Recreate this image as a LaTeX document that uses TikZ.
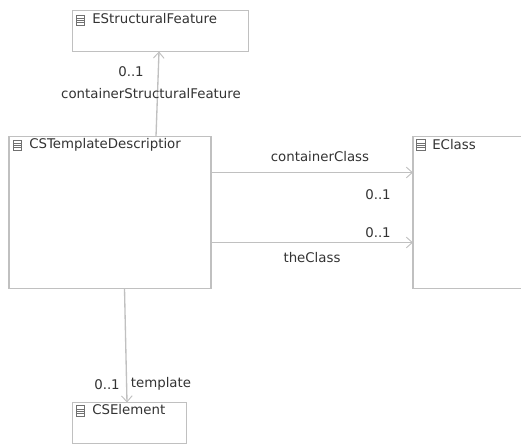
\documentclass[tikz,border=0pt]{standalone}
\usepackage{fontspec}
\setmainfont{DejaVu Sans}
\usetikzlibrary{calc,arrows.meta}
\definecolor{edgegray}{HTML}{C0C0C0}
\definecolor{inkgray}{HTML}{333333}
\definecolor{icongray}{HTML}{707070}
\tikzset{
  classbox/.style={draw=edgegray,line width=1pt,fill=white,anchor=north west,inner sep=0pt,outer sep=0pt},
  conn/.style={draw=edgegray,line width=1pt,-{Straight Barb[length=4.5pt,width=8pt,line width=0.7pt]}},
  titletext/.style={anchor=west,inner sep=0pt,text=inkgray,font=\fontsize{10}{12}\selectfont},
  lbl/.style={inner sep=0pt,text=inkgray,font=\fontsize{10}{12}\selectfont},
  iconbox/.style={draw=icongray,line width=0.6pt,fill=white,minimum width=6.4pt,minimum height=8pt,inner sep=0pt,
    path picture={\foreach \k in {-1.6pt,0pt,1.6pt}{\draw[icongray,line width=0.4pt] ($(path picture bounding box.center)+(-4pt,\k)$) -- ++(8pt,0);}}}
}
\begin{document}
\begin{tikzpicture}[x=0.75pt,y=-0.75pt]
\useasboundingbox (0,0) rectangle (521,443);
\clip (0,0) rectangle (521,443);
\node[classbox,minimum width=132pt,minimum height=30.75pt] (esf) at (72.5,10.5) {};
\node[classbox,minimum width=151.5pt,minimum height=114pt] (cst) at (9,136.5) {};
\node[classbox,minimum width=94pt,minimum height=114pt] (ecl) at (413,136.5) {};
\node[classbox,minimum width=85.5pt,minimum height=30.75pt] (cse) at (72.5,402.5) {};
% icons and titles
\node[iconbox] (i1) at (80.5,20.5) {};
\node[titletext] (t1) at (92,18.5) {EStructuralFeature};
\node[iconbox] (i2) at (17.5,145.5) {};
\node[titletext] (t2) at (29,144.5) {CSTemplateDescriptior};
\node[iconbox] (i3) at (421,145) {};
\node[titletext] (t3) at (432,144.5) {EClass};
\node[iconbox] (i4) at (80.5,411) {};
\node[titletext] (t4) at (92,409.5) {CSElement};
% connectors
\draw[conn] ($(cst.north west)+(147,0)$) -- ($(esf.south west)+(86.5,0)$);
\draw[conn] ($(cst.north east)+(0,36)$) -- ($(ecl.north west)+(0,36)$);
\draw[conn] ($(cst.north east)+(0,106)$) -- ($(ecl.north west)+(0,106)$);
\draw[conn] ($(cst.south west)+(115.5,0)$) -- ($(cse.north west)+(54.5,0)$);
% labels
\node[lbl] (l1) at (131,72) {0..1};
\node[lbl] (l2) at (151,94) {containerStructuralFeature};
\node[lbl] (l3) at (320,157) {containerClass};
\node[lbl] (l4) at (378,194.5) {0..1};
\node[lbl] (l5) at (378,232.5) {0..1};
\node[lbl] (l6) at (312,258) {theClass};
\node[lbl] (l7) at (107,385) {0..1};
\node[lbl] (l8) at (161,384) {template};
\end{tikzpicture}
\end{document}
